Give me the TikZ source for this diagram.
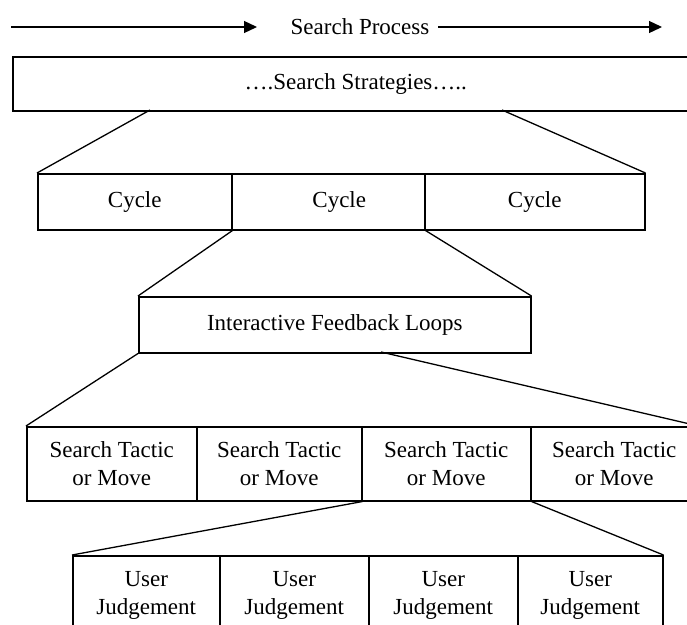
\documentclass[tikz,border=0pt]{standalone}
\usepackage{fontspec}
\setmainfont{Liberation Serif}
\usetikzlibrary{arrows.meta}
\begin{document}
\begin{tikzpicture}[x=1pt,y=-1pt,
  box/.style={draw, line width=1.5pt, inner sep=0pt, anchor=north west,
    font=\fontsize{23}{28}\selectfont, align=center},
  conn/.style={line width=1.3pt},
  arr/.style={line width=1.3pt, -{Triangle[length=13pt,width=12pt]}},
  lbl/.style={font=\fontsize{23}{28}\selectfont, inner sep=0pt}]
\useasboundingbox (0,0) rectangle (687,624);
% top arrows and label
\coordinate (a1s) at (11,27);
\coordinate (a1e) at (257,27);
\coordinate (a2s) at (438,27);
\coordinate (a2e) at (662,27);
\node[lbl] (sp) at (360,27) {Search Process};
\draw[arr] (a1s) -- (a1e);
\draw[arr] (a2s) -- (a2e);
% search strategies
\node[box, minimum width=686pt, minimum height=54pt] (ss) at (12,56) {….Search Strategies…..};
% cycles
\node[box, minimum width=194pt, minimum height=56pt] (c1) at (37,173) {Cycle};
\node[box, minimum width=193pt, minimum height=56pt] (c2) at (231,173) {\hspace*{22pt}Cycle};
\node[box, minimum width=220pt, minimum height=56pt] (c3) at (424,173) {Cycle};
% interactive feedback loops
\node[box, minimum width=392pt, minimum height=56pt] (ifl) at (138,296) {Interactive Feedback Loops};
% search tactics
\node[box, minimum width=170pt, minimum height=74pt] (st1) at (26,426) {Search Tactic\\or Move};
\node[box, minimum width=165pt, minimum height=74pt] (st2) at (196,426) {Search Tactic\\or Move};
\node[box, minimum width=169pt, minimum height=74pt] (st3) at (361,426) {Search Tactic\\or Move};
\node[box, minimum width=167pt, minimum height=74pt] (st4) at (530,426) {Search Tactic\\or Move};
% user judgements
\node[box, minimum width=147pt, minimum height=80pt] (uj1) at (72,555) {User\\Judgement};
\node[box, minimum width=149pt, minimum height=80pt] (uj2) at (219,555) {User\\Judgement};
\node[box, minimum width=149pt, minimum height=80pt] (uj3) at (368,555) {User\\Judgement};
\node[box, minimum width=145pt, minimum height=80pt] (uj4) at (517,555) {User\\Judgement};
% connectors
\coordinate (ssA) at (150,110);
\coordinate (ssB) at (502,110);
\coordinate (iflB) at (381,352);
\draw[conn] (ssA) -- (c1.north west);
\draw[conn] (ssB) -- (c3.north east);
\draw[conn] (c1.south east) -- (ifl.north west);
\draw[conn] (c2.south east) -- (ifl.north east);
\draw[conn] (ifl.south west) -- (st1.north west);
\draw[conn] (iflB) -- (st4.north east);
\draw[conn] (st2.south east) -- (uj1.north west);
\draw[conn] (st3.south east) -- (uj4.north east);
\end{tikzpicture}
\end{document}
